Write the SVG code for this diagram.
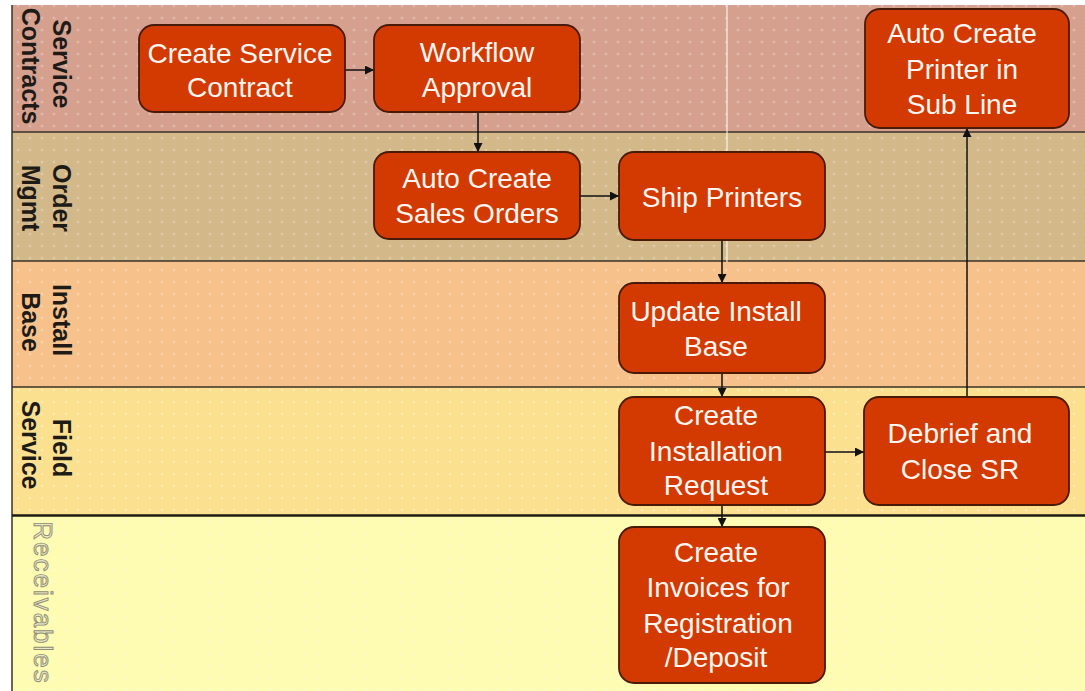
<svg xmlns="http://www.w3.org/2000/svg" width="1085" height="691" viewBox="0 0 1085 691">
<style>
.node rect{fill:#d23a02;stroke:#4a1a08;stroke-width:1.8}
.node text{font-family:"Liberation Sans",Arial,sans-serif;font-size:28px;fill:#fff6f2;text-anchor:middle}
.lbl{font-family:"Liberation Sans",Arial,sans-serif;font-size:25px;font-weight:bold;fill:#1e1a16;text-anchor:middle}
.conn line{stroke:#111;stroke-width:1.5;fill:none}
.sep{stroke:#3a3228;stroke-width:1.5}
</style>
<defs>
<marker id="ah" viewBox="0 0 10 10" refX="10" refY="5" markerWidth="10" markerHeight="9" markerUnits="userSpaceOnUse" orient="auto">
<path d="M0,0 L10,5 L0,10 z" fill="#111"/>
</marker>
<pattern id="dots" width="12" height="12" patternUnits="userSpaceOnUse">
<circle cx="6" cy="6" r="1.3" fill="#ffffff" fill-opacity="0.28"/>
</pattern>
</defs>
<rect width="1085" height="691" fill="#ffffff"/>
<g id="lanes">
<rect x="12" y="5" width="1073" height="127" fill="#d6a08f"/>
<rect x="12" y="132" width="1073" height="129" fill="#d3b88a"/>
<rect x="12" y="261" width="1073" height="126" fill="#f7c18b"/>
<rect x="12" y="387" width="1073" height="129" fill="#fbe08f"/>
<rect x="12" y="516" width="1073" height="175" fill="#fefbb2"/>
<rect x="12" y="5" width="1073" height="686" fill="url(#dots)"/>
<line class="sep" x1="12" y1="5" x2="12" y2="691"/>
<line class="sep" x1="12" y1="132" x2="1085" y2="132"/>
<line class="sep" x1="12" y1="261" x2="1085" y2="261"/>
<line class="sep" x1="12" y1="387" x2="1085" y2="387"/>
<line x1="12" y1="515.5" x2="1085" y2="515.5" stroke="#1e1a14" stroke-width="2.5"/>
<line x1="727" y1="5" x2="727" y2="262" stroke="#ffffff" stroke-width="1.2" stroke-opacity="0.85"/>
</g>
<g id="lane-labels">
<text class="lbl" transform="translate(53,64) rotate(90)">Service</text>
<text class="lbl" transform="translate(22,66) rotate(90)">Contracts</text>
<text class="lbl" transform="translate(53,198) rotate(90)">Order</text>
<text class="lbl" transform="translate(22,198) rotate(90)">Mgmt</text>
<text class="lbl" transform="translate(53,320) rotate(90)">Install</text>
<text class="lbl" transform="translate(22,322) rotate(90)">Base</text>
<text class="lbl" transform="translate(53,448) rotate(90)">Field</text>
<text class="lbl" transform="translate(22,445) rotate(90)">Service</text>
<text transform="translate(34,603) rotate(90)" font-family="Liberation Sans,Arial,sans-serif" font-size="26" letter-spacing="2" text-anchor="middle" fill="#ece8c0" stroke="#8e8c78" stroke-width="0.9">Receivables</text>
</g>
<g class="conn" id="connectors">
<line x1="345" y1="70" x2="374" y2="70" marker-end="url(#ah)"/>
<line x1="478" y1="112" x2="478" y2="152" marker-end="url(#ah)"/>
<line x1="580" y1="196" x2="619" y2="196" marker-end="url(#ah)"/>
<line x1="722" y1="240" x2="722" y2="283" marker-end="url(#ah)"/>
<line x1="722" y1="373" x2="722" y2="397" marker-end="url(#ah)"/>
<line x1="825" y1="452" x2="864" y2="452" marker-end="url(#ah)"/>
<line x1="722" y1="505" x2="722" y2="527" marker-end="url(#ah)"/>
<line x1="967" y1="397" x2="967" y2="128" marker-end="url(#ah)"/>
</g>
<g class="node" id="n-create-service-contract">
<rect x="139" y="25" width="206" height="87" rx="15"/>
<text x="240" y="63">Create Service</text>
<text x="240" y="97">Contract</text>
</g>
<g class="node" id="n-workflow-approval">
<rect x="374" y="25" width="206" height="87" rx="15"/>
<text x="477" y="62">Workflow</text>
<text x="477" y="97">Approval</text>
</g>
<g class="node" id="n-auto-create-sales-orders">
<rect x="374" y="152" width="206" height="87" rx="15"/>
<text x="477" y="188">Auto Create</text>
<text x="477" y="223">Sales Orders</text>
</g>
<g class="node" id="n-ship-printers">
<rect x="619" y="152" width="206" height="88" rx="15"/>
<text x="722" y="207">Ship Printers</text>
</g>
<g class="node" id="n-auto-create-printer">
<rect x="865" y="9" width="204" height="119" rx="15"/>
<text x="962" y="43">Auto Create</text>
<text x="962" y="79">Printer in</text>
<text x="962" y="114">Sub Line</text>
</g>
<g class="node" id="n-update-install-base">
<rect x="619" y="283" width="206" height="90" rx="15"/>
<text x="716" y="321">Update Install</text>
<text x="716" y="356">Base</text>
</g>
<g class="node" id="n-create-installation-request">
<rect x="619" y="397" width="206" height="108" rx="15"/>
<text x="716" y="425">Create</text>
<text x="716" y="461">Installation</text>
<text x="716" y="495">Request</text>
</g>
<g class="node" id="n-debrief-close-sr">
<rect x="864" y="397" width="205" height="108" rx="15"/>
<text x="960" y="443">Debrief and</text>
<text x="960" y="479">Close SR</text>
</g>
<g class="node" id="n-create-invoices">
<rect x="619" y="527" width="206" height="156" rx="15"/>
<text x="716" y="562">Create</text>
<text x="718" y="597">Invoices for</text>
<text x="718" y="633">Registration</text>
<text x="716" y="667">/Deposit</text>
</g>
</svg>
